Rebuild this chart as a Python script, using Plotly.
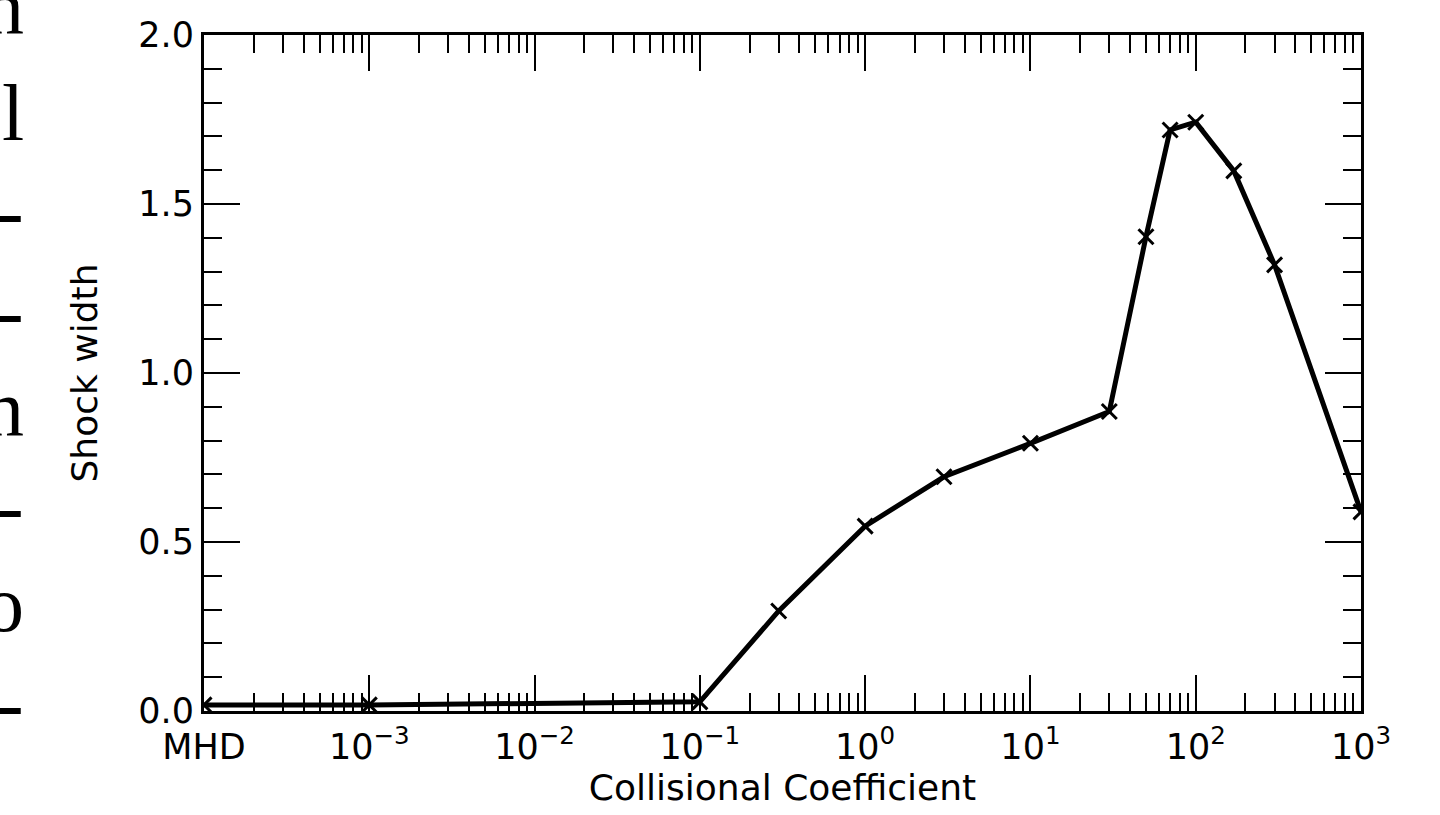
import plotly.graph_objects as go

# Data
coeff = [1e-4, 1e-3, 1e-1, 0.3, 1, 3, 10, 30, 50, 70, 100, 170, 300, 1000]
width = [0.018, 0.018, 0.027, 0.296, 0.547, 0.693, 0.792, 0.886, 1.403, 1.719, 1.742, 1.598, 1.320, 0.589]

xtick_vals = [1e-4, 1e-3, 1e-2, 1e-1, 1, 10, 100, 1000]
xtick_text = ["MHD", "10<sup>\u22123</sup>", "10<sup>\u22122</sup>", "10<sup>\u22121</sup>",
              "10<sup>0</sup>", "10<sup>1</sup>", "10<sup>2</sup>", "10<sup>3</sup>"]
ytick_vals = [0.0, 0.5, 1.0, 1.5, 2.0]
ytick_text = ["0.0", "0.5", "1.0", "1.5", "2.0"]

# Cropped glyphs of neighbouring page text visible on the left edge
side_chars = ["n", "l", "-", "-", "n", "-", "o", "-"]
side_centers_px = [6, 113, 211, 311, 408, 506, 604, 703]

W, H = 1440, 815
ML, MR, MT, MB = 204, 79, 35, 104
PW, PH = W - ML - MR, H - MT - MB

fig = go.Figure()
fig.add_trace(go.Scatter(
    x=coeff, y=width, mode="lines+markers",
    line=dict(color="black", width=5),
    marker=dict(symbol="x-thin", size=15, color="black", line=dict(width=3, color="black")),
    showlegend=False,
))

font = "DejaVu Sans"
fig.update_layout(
    width=W, height=H,
    margin=dict(l=ML, r=MR, t=MT, b=MB),
    paper_bgcolor="white", plot_bgcolor="white",
    font=dict(family=font, color="black", size=35),
    xaxis=dict(
        type="log", range=[-4, 3],
        tickmode="array", tickvals=xtick_vals, ticktext=xtick_text,
        ticks="inside", ticklen=36, tickwidth=2, tickcolor="black",
        minor=dict(ticks="inside", ticklen=18, tickwidth=2, tickcolor="black", dtick="D1", showgrid=False),
        showline=True, linewidth=3, linecolor="black", mirror="ticks",
        showgrid=False, zeroline=False,
        tickfont=dict(size=35, family=font),
        ticklabelstandoff=3,
        title=dict(text="Collisional Coefficient", font=dict(size=36, family=font), standoff=2),
        automargin=False,
    ),
    yaxis=dict(
        range=[0, 2],
        tickmode="array", tickvals=ytick_vals, ticktext=ytick_text,
        ticks="inside", ticklen=36, tickwidth=2, tickcolor="black",
        minor=dict(ticks="inside", ticklen=18, tickwidth=2, tickcolor="black", dtick=0.1, tick0=0, showgrid=False),
        showline=True, linewidth=3, linecolor="black", mirror="ticks",
        showgrid=False, zeroline=False,
        tickfont=dict(size=35, family=font),
        title=dict(text="Shock width", font=dict(size=36, family=font), standoff=30),
        automargin=False,
    ),
)

for ch, cy in zip(side_chars, side_centers_px):
    fig.add_annotation(
        text=ch, xref="paper", yref="paper",
        x=(25 - ML) / PW, y=(H - MB - cy) / PH,
        xanchor="right", yanchor="middle", showarrow=False,
        font=dict(family="Liberation Serif", size=80, color="black"),
        borderpad=0,
    )

fig.write_html("out.html")
